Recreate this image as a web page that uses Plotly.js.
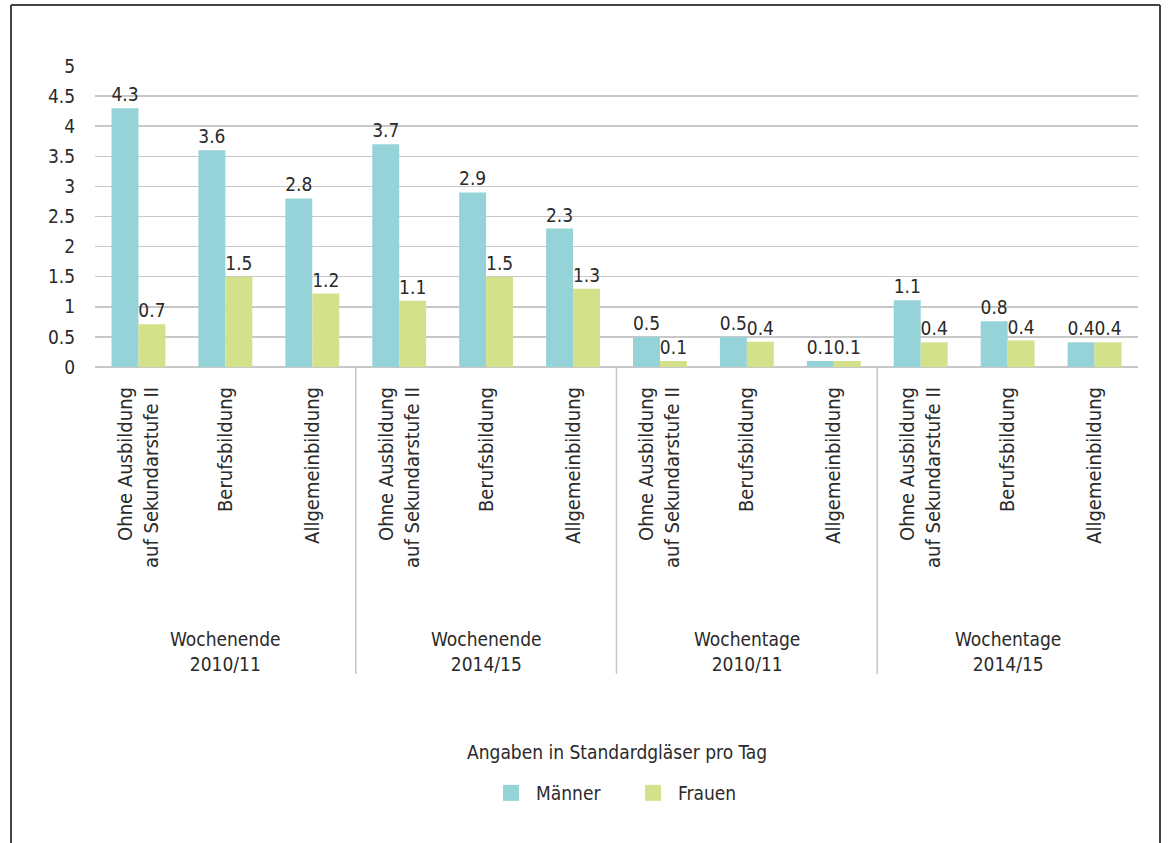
<!DOCTYPE html>
<html>
<head>
<meta charset="utf-8">
<script src="https://cdn.plot.ly/plotly-3.0.1.min.js"></script>
<style>
html,body{margin:0;padding:0;background:#fff;}
#chart{width:1173px;height:843px;}
</style>
</head>
<body>
<div id="chart"></div>
<script>
const categories = ["c1","c2","c3","c4","c5","c6","c7","c8","c9","c10","c11","c12"];
const categoryLabels = [
  "Ohne Ausbildung<br>auf Sekundarstufe II","Berufsbildung","Allgemeinbildung",
  "Ohne Ausbildung<br>auf Sekundarstufe II","Berufsbildung","Allgemeinbildung",
  "Ohne Ausbildung<br>auf Sekundarstufe II","Berufsbildung","Allgemeinbildung",
  "Ohne Ausbildung<br>auf Sekundarstufe II","Berufsbildung","Allgemeinbildung"
];
const groupLabels = ["Wochenende<br>2010/11","Wochenende<br>2014/15","Wochentage<br>2010/11","Wochentage<br>2014/15"];
const maenner = [4.3,3.6,2.8,3.7,2.9,2.3,0.5,0.5,0.1,1.11,0.76,0.41];
const frauen  = [0.71,1.5,1.22,1.1,1.5,1.3,0.1,0.42,0.1,0.41,0.44,0.41];
const seriesNames = ["Männer","Frauen"];
const legendTitle = "Angaben in Standardgläser pro Tag";
const yTicks = [0,0.5,1,1.5,2,2.5,3,3.5,4,4.5,5];

const FONT = "DejaVu Sans Condensed, DejaVu Sans, sans-serif";
const TXT = "#2a2a2a";
const FS = 19;
const colM = "#95d3d8";
const colF = "#d3e18a";

const mk = (name, vals, col) => ({
  type: "bar", name: name, x: categories, y: vals, showlegend: false,
  marker: {color: col, line: {width: 0}},
  texttemplate: "%{y:.1f}", textposition: "outside",
  textfont: {family: FONT, size: FS, color: TXT},
  constraintext: "none", cliponaxis: false, hoverinfo: "none"
});
const leg = (name, col) => ({
  type: "scatter", mode: "markers", name: name, x: [null], y: [null],
  marker: {symbol: "square", size: 19, color: col}, showlegend: true, hoverinfo: "none"
});

const data = [mk(seriesNames[0], maenner, colM), mk(seriesNames[1], frauen, colF),
              leg(seriesNames[0], colM), leg(seriesNames[1], colF)];

// plot area pixels: x 95..1138, y 66..367
const L=95, R=1138, T=66, B=367, W=1173, H=843;
const pw=R-L, ph=B-T;
const px = v => (v-L)/pw;
const py = v => (B-v)/ph;

const shapes = [];
[2.5,5.5,8.5].forEach(xv => shapes.push({type:"line", xref:"x", yref:"paper", x0:xv, x1:xv, y0:0, y1:py(674), line:{color:"#c8c8c8", width:1.5}}));
// frame
shapes.push({type:"line", xref:"paper", yref:"paper", x0:px(11), x1:px(11), y0:py(5), y1:py(843), line:{color:"#444", width:2}});
shapes.push({type:"line", xref:"paper", yref:"paper", x0:px(11), x1:px(1160), y0:py(5), y1:py(5), line:{color:"#444", width:2}});
shapes.push({type:"line", xref:"paper", yref:"paper", x0:px(1160), x1:px(1160), y0:py(5), y1:py(843), line:{color:"#444", width:2}});

const annotations = groupLabels.map((g,i) => ({
  xref:"x", yref:"paper", x: categories[i*3+1], y: py(651), text: g, showarrow:false,
  font:{family:FONT, size:FS, color:TXT}, align:"center", yanchor:"middle"
}));
annotations.push({xref:"paper", yref:"paper", x: px(617), y: py(752), text: legendTitle, showarrow:false,
  font:{family:FONT, size:FS, color:TXT}, xanchor:"center", yanchor:"middle"});

const layout = {
  width: W, height: H,
  margin: {l: L, r: W-R, t: T, b: H-B, pad: 0},
  paper_bgcolor: "#fff", plot_bgcolor: "#fff",
  barmode: "group", bargap: 0.38, bargroupgap: 0,
  showlegend: true,
  legend: {orientation: "h", x: px(628), xanchor: "center", y: py(793), yanchor: "middle",
    font: {family: FONT, size: FS, color: TXT}, itemwidth: 40, itemsizing: "trace",
    itemclick: false, traceorder: "normal", entrywidth: 87, entrywidthmode: "pixels"},
  xaxis: {type: "category", tickvals: categories, ticktext: categoryLabels, tickangle: -90,
    tickfont: {family: FONT, size: 20, color: TXT}, showgrid: false, showline: false,
    ticks: "", zeroline: false, range: [-0.5, 11.5], fixedrange: true, ticklabelstandoff: 15},
  yaxis: {range: [0, 5], tickvals: yTicks, ticktext: yTicks.map(String),
    tickfont: {family: FONT, size: FS, color: TXT}, showgrid: true, gridcolor: "#c8c8c8",
    gridwidth: 1.5, zeroline: true, zerolinecolor: "#c8c8c8", zerolinewidth: 2,
    showline: false, ticks: "outside", ticklen: 15, tickcolor: "rgba(0,0,0,0)", fixedrange: true},
  shapes: shapes, annotations: annotations,
  font: {family: FONT}
};

Plotly.newPlot("chart", data, layout, {displayModeBar: false, staticPlot: true});
</script>
</body>
</html>
